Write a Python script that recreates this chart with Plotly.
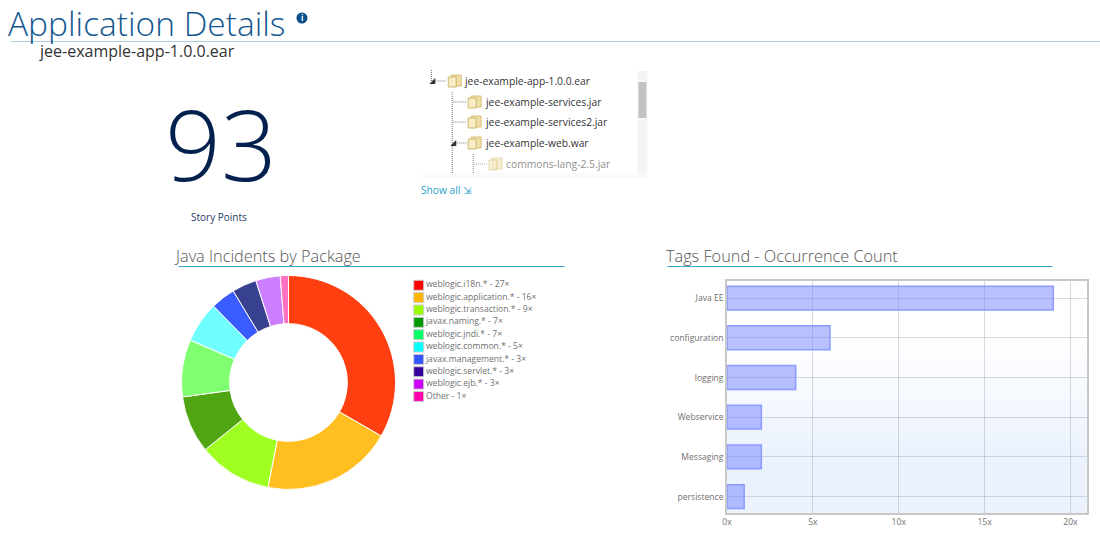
"""Application details report page: story points, archive tree, incidents donut, tags bar."""

import plotly.graph_objects as go

W, H = 1100, 540
FONT = "Open Sans"
PAGE_SHIFT = 1.7  # the rendered figure sits this far right of the window edge

APP_NAME = "jee-example-app-1.0.0.ear"
STORY_POINTS = "93"
TREE_ROWS = [
    "jee-example-app-1.0.0.ear",
    "jee-example-services.jar",
    "jee-example-services2.jar",
    "jee-example-web.war",
    "commons-lang-2.5.jar",
]

PACKAGES = [
    "weblogic.i18n.*",
    "weblogic.application.*",
    "weblogic.transaction.*",
    "javax.naming.*",
    "weblogic.jndi.*",
    "weblogic.common.*",
    "javax.management.*",
    "weblogic.servlet.*",
    "weblogic.ejb.*",
    "Other",
]
PACKAGE_COUNTS = [27, 16, 9, 7, 7, 5, 3, 3, 3, 1]
SLICE_COLORS = ["#ff3f10", "#ffbf20", "#9fff20", "#4fa512", "#80ff70",
                "#70ffff", "#3a5cff", "#384090", "#cc80ff", "#ff70c0"]
SWATCH_COLORS = ["#ff0000", "#ffb400", "#99ff00", "#009900", "#00ff66",
                 "#00ffff", "#3355ff", "#330099", "#cc00ff", "#ff00aa"]

TAGS = ["Java EE", "configuration", "logging", "Webservice", "Messaging", "persistence"]
TAG_COUNTS = [19, 6, 4, 2, 2, 1]
COUNT_TICKS = [0, 5, 10, 15, 20]
COUNT_TICK_LABELS = ["0x", "5x", "10x", "15x", "20x"]
GRADIENT = [[1], [0]]


def px(x):
    return (x - PAGE_SHIFT) / W


def py(y):
    return 1 - y / H


def label(text, x, y, size, color, anchor="left", weight=None, opacity=1):
    # annotations carry a few px of padding on the anchored side
    if anchor == "left":
        x -= 3.5
    fig.add_annotation(
        text=text, xref="paper", yref="paper", x=px(x), y=py(y),
        xanchor=anchor, yanchor="middle", showarrow=False, opacity=opacity,
        font={"family": FONT, "size": size, "color": color, "weight": weight},
    )


def line(x0, y0, x1, y1, color, width=1, dash="solid"):
    fig.add_shape(
        type="line", xref="paper", yref="paper",
        x0=px(x0), y0=py(y0), x1=px(x1), y1=py(y1),
        line={"color": color, "width": width, "dash": dash},
    )


def box(x0, y0, x1, y1, fill, edge=None, opacity=1):
    fig.add_shape(
        type="rect", xref="paper", yref="paper",
        x0=px(x0), y0=py(y0), x1=px(x1), y1=py(y1), fillcolor=fill, opacity=opacity,
        line={"color": edge or fill, "width": 1 if edge else 0},
    )


def folder(x, y, opacity=1):
    box(x + 3, y - 6, x + 13, y + 5, "#f0dfa8", "#d8c078", opacity)
    box(x, y - 4, x + 8, y + 6, "#f8edc4", "#cfb870", opacity)


fig = go.Figure()

# background gradient sits on the first subplot so the bars' grid draws over it
fig.add_trace(go.Heatmap(
    z=GRADIENT, xaxis="x", yaxis="y", showscale=False, zsmooth="best", hoverinfo="skip",
    colorscale=[[0, "#ffffff"], [1, "#ebf2fd"]],
))
fig.add_trace(go.Bar(
    x=TAG_COUNTS, y=TAGS, orientation="h", xaxis="x2", yaxis="y2", width=0.6,
    marker={"color": "rgba(115,130,255,0.5)", "line": {"color": "#8c9bff", "width": 1.5}},
    showlegend=False,
))
fig.add_trace(go.Pie(
    labels=PACKAGES, values=PACKAGE_COUNTS, hole=0.55, sort=False, direction="clockwise",
    domain={"x": [px(179), px(394)], "y": [py(490), py(275)]},
    marker={"colors": SLICE_COLORS, "line": {"color": "#ffffff", "width": 1}},
    textinfo="none", showlegend=False,
))
# hand-built legend, the swatches are more saturated than the slices
fig.add_trace(go.Scatter(
    x=[0] * len(PACKAGES), y=PACKAGES, xaxis="x3", yaxis="y3", mode="markers+text",
    marker={"symbol": "square", "size": 10, "color": SWATCH_COLORS,
            "line": {"color": "#cccccc", "width": 1}},
    text=[f"{p} - {c}×" for p, c in zip(PACKAGES, PACKAGE_COUNTS)],
    textposition="middle right", cliponaxis=False,
    textfont={"family": FONT, "size": 8.6, "color": "#707070"},
    showlegend=False,
))

fig.update_layout(
    width=W, height=H, margin={"l": 0, "r": 0, "t": 0, "b": 0},
    paper_bgcolor="#ffffff", plot_bgcolor="rgba(0,0,0,0)", showlegend=False,
    font={"family": FONT},
    xaxis={"domain": [px(727), px(1088.4)], "visible": False, "fixedrange": True},
    yaxis={"domain": [py(513.3), py(281)], "visible": False, "fixedrange": True},
    xaxis2={
        "domain": [px(727), px(1088.4)], "anchor": "y2", "range": [0, 20.95],
        "tickvals": COUNT_TICKS, "ticktext": COUNT_TICK_LABELS, "ticks": "",
        "showgrid": True, "gridcolor": "rgba(150,155,175,0.38)", "gridwidth": 1,
        "showline": True, "linecolor": "#c8c8c8", "linewidth": 1.5, "mirror": True,
        "zeroline": False, "tickfont": {"family": FONT, "size": 8.6, "color": "#707070"},
    },
    yaxis2={
        "domain": [py(513.3), py(281)], "anchor": "x2", "range": [5.42, -0.43],
        "type": "category", "ticks": "", "ticklen": 0,
        "showgrid": True, "gridcolor": "rgba(150,155,175,0.38)", "gridwidth": 1,
        "showline": True, "linecolor": "#c8c8c8", "linewidth": 1.5, "mirror": True,
        "zeroline": False, "tickfont": {"family": FONT, "size": 8.6, "color": "#707070"},
    },
    xaxis3={"domain": [px(411), px(559)], "anchor": "y3", "range": [-6.3, 141.7], "visible": False},
    yaxis3={"domain": [py(402.6), py(279.1)], "anchor": "x3", "range": [9.5, -0.5],
            "type": "category", "visible": False},
)

# page header
label("Application Details", 6.7, 23, 33.5, "#14588f", weight=300)
line(8, 41.5, 1102, 41.5, "#a9d0d8")
fig.add_shape(type="circle", xref="paper", yref="paper", x0=px(294.5), y0=py(23.5),
              x1=px(305.5), y1=py(12.5), fillcolor="#0b4f8a", line={"width": 0})
label("<b>i</b>", 300, 18, 8, "#ffffff", anchor="center")
label(APP_NAME, 37.7, 51, 16, "#333333")

# story points
label(STORY_POINTS, 218.5, 143, 98, "#04204f", anchor="center", weight=350)
label("Story Points", 217, 217, 10, "#2a3a5f", anchor="center")

# archive tree
DOTS = "1px,1px"
line(430, 70, 430, 81, "#666666", 1, DOTS)
line(431, 81, 445, 81, "#777777", 1, DOTS)
line(451, 92, 451, 173, "#777777", 1, DOTS)
line(452, 102, 465, 102, "#777777", 1, DOTS)
line(452, 122, 465, 122, "#777777", 1, DOTS)
line(452, 143, 465, 143, "#777777", 1, DOTS)
line(472, 154, 472, 173, "#888888", 1, DOTS)
line(473, 164, 486, 164, "#aaaaaa", 1, DOTS)
fig.add_shape(type="path", xref="paper", yref="paper", fillcolor="#333333", line={"width": 0},
              path=f"M {px(428)} {py(84)} L {px(434)} {py(84)} L {px(434)} {py(78)} Z")
fig.add_shape(type="path", xref="paper", yref="paper", fillcolor="#333333", line={"width": 0},
              path=f"M {px(449)} {py(146)} L {px(455)} {py(146)} L {px(455)} {py(140)} Z")
folder(447, 81)
folder(467, 102)
folder(467, 122)
folder(467, 143)
folder(488, 164, 0.55)
label(TREE_ROWS[0], 464.5, 81, 10.3, "#333333")
label(TREE_ROWS[1], 485.5, 102, 10.3, "#333333")
label(TREE_ROWS[2], 485.5, 122, 10.3, "#333333")
label(TREE_ROWS[3], 485.5, 143, 10.3, "#333333")
label(TREE_ROWS[4], 506, 164, 10.3, "#8f8f8f")
box(637, 71, 647, 173, "#f4f4f4")
box(638, 82, 646, 118, "#c2c2c2")
box(421, 173, 647, 178, "#fafafa")
label("Show all ⇲", 421, 190, 10.2, "#2a9fc9")

# section titles
label("Java Incidents by Package", 173, 256, 16.3, "#555555", weight=300)
line(176, 266.5, 564, 266.5, "#3ba9d0")
label("Tags Found - Occurrence Count", 667, 256, 16.3, "#555555", weight=300)
line(667, 266.5, 1054, 266.5, "#3ba9d0")

fig.write_html("out.html", config={"displayModeBar": False},
               post_script="document.body.style.margin='0';")
